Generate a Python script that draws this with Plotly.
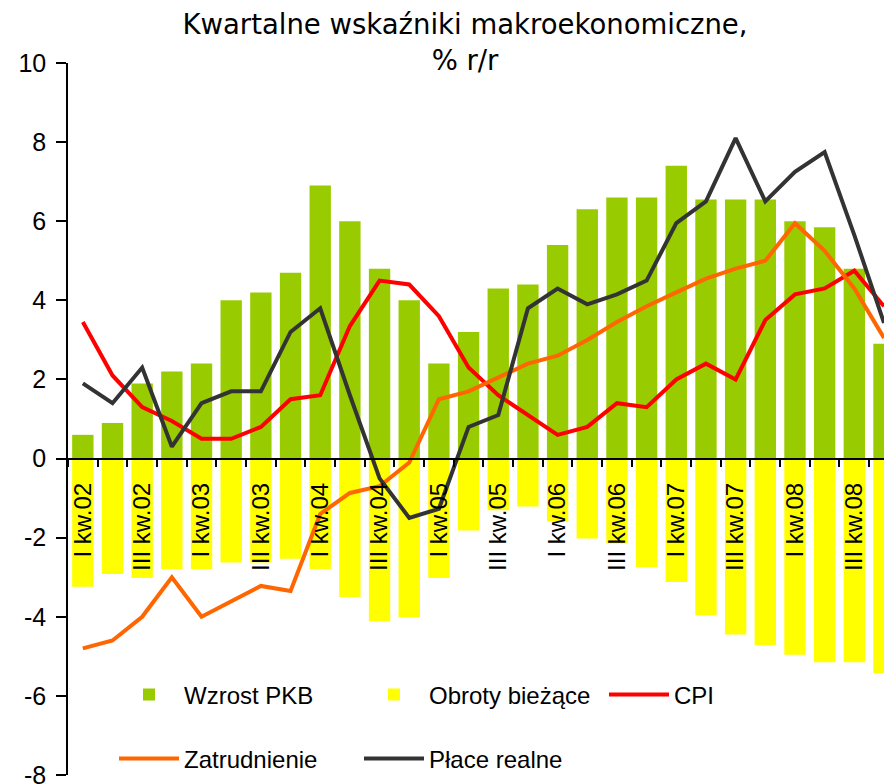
import plotly.graph_objects as go

quarters = ["I kw.02", "II kw.02", "III kw.02", "IV kw.02",
            "I kw.03", "II kw.03", "III kw.03", "IV kw.03",
            "I kw.04", "II kw.04", "III kw.04", "IV kw.04",
            "I kw.05", "II kw.05", "III kw.05", "IV kw.05",
            "I kw.06", "II kw.06", "III kw.06", "IV kw.06",
            "I kw.07", "II kw.07", "III kw.07", "IV kw.07",
            "I kw.08", "II kw.08", "III kw.08", "IV kw.08"]
tick_text = [q if q.startswith("I kw") or q.startswith("III kw") else "" for q in quarters]

gdp = [0.6, 0.9, 1.9, 2.2, 2.4, 4.0, 4.2, 4.7, 6.9, 6.0, 4.8, 4.0, 2.4, 3.2,
       4.3, 4.4, 5.4, 6.3, 6.6, 6.6, 7.4, 6.55, 6.55, 6.55, 6.0, 5.85, 4.8, 2.9]
current_account = [-3.24, -2.92, -3.02, -2.79, -2.79, -2.63, -2.63, -2.53, -2.79, -3.5,
                   -4.11, -4.01, -3.02, -1.82, -1.31, -1.21, -1.59, -2.02, -2.15, -2.74,
                   -3.12, -3.96, -4.45, -4.72, -4.96, -5.15, -5.15, -5.43]
cpi = [3.45, 2.1, 1.3, 0.95, 0.5, 0.5, 0.8, 1.5, 1.6, 3.35, 4.5, 4.4, 3.6, 2.3,
       1.6, 1.1, 0.6, 0.8, 1.4, 1.3, 2.0, 2.4, 2.0, 3.5, 4.15, 4.3, 4.75, 3.85]
employment = [-4.8, -4.6, -4.0, -3.0, -4.0, -3.6, -3.22, -3.35, -1.4, -0.87, -0.7, -0.1,
              1.5, 1.7, 2.05, 2.4, 2.6, 3.0, 3.45, 3.85, 4.2, 4.55, 4.8, 5.0, 5.95, 5.25, 4.3, 3.05]
wages = [1.9, 1.4, 2.3, 0.3, 1.4, 1.7, 1.7, 3.2, 3.8, 1.6, -0.5, -1.5, -1.27, 0.8,
         1.1, 3.8, 4.3, 3.9, 4.15, 4.5, 5.95, 6.5, 8.1, 6.5, 7.25, 7.75, 5.65, 3.43]

y_ticks = [-8, -6, -4, -2, 0, 2, 4, 6, 8, 10]
y_tick_text = [str(v) for v in y_ticks]  # plain hyphen minus, as in the original

FONT = "Liberation Sans, Arial, sans-serif"

fig = go.Figure()
fig.add_trace(go.Bar(x=quarters, y=gdp, name="Wzrost PKB", marker_color="#99CC00",
                     marker_line_width=0, legend="legend"))
fig.add_trace(go.Bar(x=quarters, y=current_account, name="Obroty bieżące", marker_color="#FFFF00",
                     marker_line_width=0, legend="legend"))
fig.add_trace(go.Scatter(x=quarters, y=cpi, name="CPI", mode="lines",
                         line=dict(color="#FF0000", width=4), legend="legend"))
fig.add_trace(go.Scatter(x=quarters, y=employment, name="Zatrudnienie", mode="lines",
                         line=dict(color="#FF6600", width=4), legend="legend2"))
fig.add_trace(go.Scatter(x=quarters, y=wages, name="Płace realne", mode="lines",
                         line=dict(color="#333333", width=4), legend="legend2"))

W, H = 884, 784
plot_top, plot_bottom, plot_left, plot_right = 63.3, 775.0, 68.0, 884.0

def py(pix):
    return (plot_bottom - pix) / (plot_bottom - plot_top)

def px(pix):
    return (pix - plot_left) / (plot_right - plot_left)

legend_common = dict(orientation="h", font=dict(family=FONT, size=24, color="black"),
                     bgcolor="rgba(0,0,0,0)", entrywidth=170, entrywidthmode="pixels",
                     itemwidth=60,
                     xanchor="left", yanchor="middle", traceorder="normal")

fig.update_layout(
    width=W, height=H,
    margin=dict(l=plot_left, r=W - plot_right, t=plot_top, b=H - plot_bottom,
                autoexpand=False),
    paper_bgcolor="white", plot_bgcolor="white",
    barmode="relative", bargap=0.28,
    title=dict(text="Kwartalne wskaźniki makroekonomiczne,<br>% r/r",
               font=dict(family="DejaVu Sans, Verdana, sans-serif", size=27.5, color="black"),
               x=465 / W, xanchor="center", xref="container",
               y=1 - 34 / H, yanchor="top", yref="container"),
    legend=dict(x=px(114), y=py(695), **legend_common),
    legend2=dict(x=px(114), y=py(759), **legend_common),
    xaxis=dict(type="category", categoryorder="array", categoryarray=quarters,
               range=[-0.5, 27.0], tickmode="array", tickvals=quarters, ticktext=tick_text,
               tickangle=-90, tickson="boundaries", ticks="outside", ticklen=8,
               tickwidth=1.5, tickcolor="black", ticklabelstandoff=14,
               showline=True, linecolor="black", linewidth=1.5, automargin=False,
               anchor="free", position=8 / 18, showgrid=False, zeroline=False,
               tickfont=dict(family=FONT, size=24, color="black")),
    yaxis=dict(range=[-8, 10], tickmode="array", tickvals=y_ticks, ticktext=y_tick_text,
               ticks="outside", ticklen=10, tickwidth=1.5, tickcolor="black",
               showline=True, linecolor="black", linewidth=1.5, automargin=False,
               showgrid=False, zeroline=False, ticklabelstandoff=5,
               ticklabeloverflow="allow",
               tickfont=dict(family=FONT, size=25, color="black")),
)

# place the figure flush with the window (no default body margin, no scrollbars)
page_css = ("document.body.style.margin='0px';"
            "document.body.style.overflow='hidden';"
            "document.documentElement.style.overflow='hidden';")

fig.write_html("out.html", post_script=page_css, config={"displayModeBar": False})
